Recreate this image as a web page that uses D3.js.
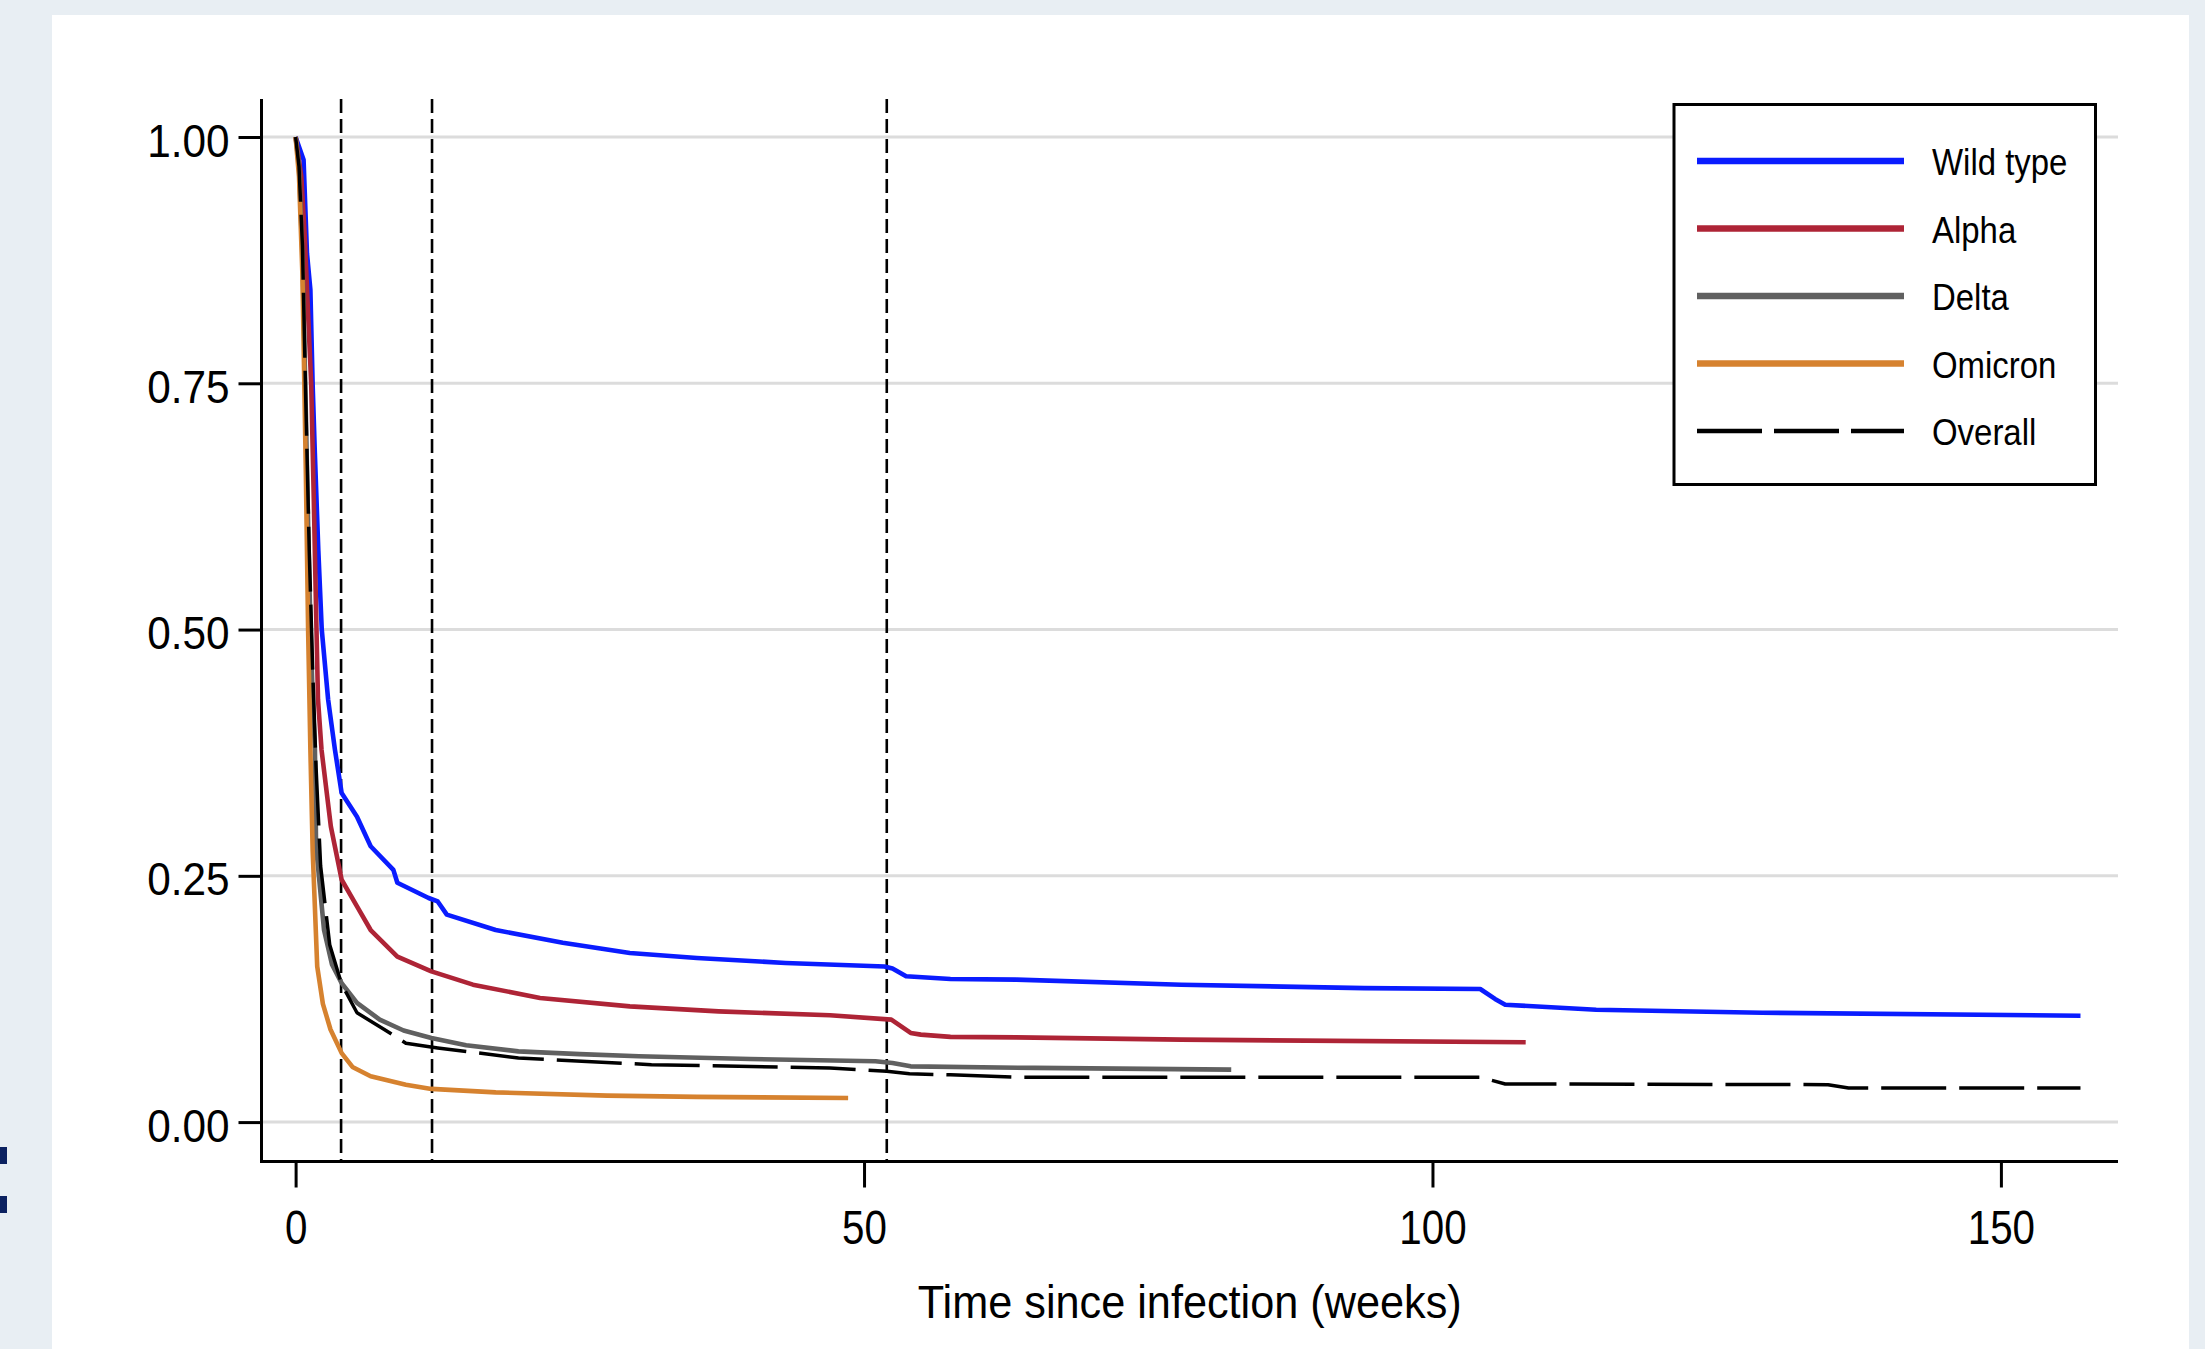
<!DOCTYPE html>
<html>
<head>
<meta charset="utf-8">
<script src="https://cdn.jsdelivr.net/npm/d3@7"></script>
<style>
  html, body { margin: 0; padding: 0; background: #e8eef3; }
  svg { display: block; }
  text { font-family: "Liberation Sans", Arial, sans-serif; fill: #000; }
</style>
</head>
<body>
<script>
// ---------- data ----------
const seriesNames = ["Wild type", "Alpha", "Delta", "Omicron", "Overall"];
const seriesColors = ["#0a1cff", "#ae2436", "#606060", "#d6822f", "#000000"];

// [weeks since infection, proportion still positive]
const wildType = [[0,1],[0.7,0.977],[1.0,0.882],[1.3,0.845],[1.5,0.748],[1.69,0.68],[2.0,0.58],[2.3,0.5],[2.86,0.429],[3.46,0.378],[4.05,0.334],[5.4,0.31],[6.6,0.28],[8.6,0.256],[8.95,0.243],[11.7,0.2275],[12.5,0.224],[13.3,0.2106],[17.6,0.195],[23.5,0.182],[29.4,0.1717],[35.3,0.1666],[43.1,0.1615],[51.8,0.158],[52.5,0.156],[53.7,0.148],[57.6,0.1453],[63.4,0.1446],[77.9,0.1395],[94,0.136],[104.2,0.1351],[105.5,0.125],[106.4,0.1192],[114.4,0.114],[129,0.111],[157,0.108]];
const alpha = [[0,1],[0.5,0.96],[0.8,0.9],[1.1,0.82],[1.37,0.75],[1.6,0.632],[1.8,0.52],[1.97,0.429],[2.28,0.378],[3.1,0.3],[4.05,0.246],[5.4,0.219],[6.6,0.195],[8.95,0.168],[11.94,0.153],[15.6,0.1395],[21.5,0.126],[29.4,0.1175],[37.2,0.1124],[47,0.1084],[52.4,0.104],[54.1,0.0905],[55,0.0888],[57.6,0.0865],[63.4,0.086],[77.9,0.0837],[108.2,0.081]];
const delta = [[0,1],[0.3,0.97],[0.6,0.88],[0.9,0.72],[1.2,0.55],[1.5,0.43],[1.7,0.378],[1.8,0.28],[2.5,0.195],[3.2,0.16],[4.05,0.141],[5.4,0.121],[7.4,0.104],[9.5,0.093],[11.94,0.0854],[15,0.078],[19.6,0.0718],[25,0.069],[30.2,0.0668],[40,0.064],[51,0.0617],[52.5,0.06],[54.1,0.0566],[65,0.055],[82.3,0.0533]];
const omicron = [[0,1],[0.3,0.96],[0.6,0.86],[0.9,0.66],[1.1,0.5],[1.3,0.378],[1.5,0.276],[1.9,0.158],[2.4,0.12],[3.07,0.094],[4.05,0.07],[5,0.056],[6.6,0.0465],[9.7,0.038],[11.94,0.0337],[17.6,0.0302],[27.4,0.0269],[35.3,0.0256],[48.6,0.0245]];
const overall = [[0,1],[0.3,0.97],[0.6,0.89],[0.9,0.73],[1.2,0.58],[1.5,0.46],[1.8,0.36],[2.2,0.26],[3,0.18],[4.05,0.14],[5.4,0.111],[7.8,0.094],[9.7,0.08],[12.5,0.0753],[19.6,0.0651],[31.3,0.0583],[47,0.055],[52,0.0516],[54,0.049],[57.6,0.048],[63.4,0.0455],[104.2,0.0455],[106.4,0.0387],[134.8,0.038],[136.6,0.0347],[157,0.0347]];

const xTicks = [0, 50, 100, 150];
const yTicks = [0, 0.25, 0.5, 0.75, 1];
const yTickLabels = ["0.00", "0.25", "0.50", "0.75", "1.00"];
const refWeeks = [4, 12, 52];
const xTitle = "Time since infection (weeks)";

// ---------- layout ----------
const W = 2205, H = 1349;
const svg = d3.select("body").append("svg").attr("width", W).attr("height", H);

svg.append("rect").attr("x", 0).attr("y", 0).attr("width", W).attr("height", H).attr("fill", "#e8eef3");
svg.append("rect").attr("x", 52).attr("y", 15).attr("width", 2189 - 52).attr("height", H - 15).attr("fill", "#ffffff");
// cut-off marks at left edge
svg.append("rect").attr("x", 0).attr("y", 1147).attr("width", 7).attr("height", 17).attr("fill", "#0b2160");
svg.append("rect").attr("x", 0).attr("y", 1196).attr("width", 7).attr("height", 17).attr("fill", "#0b2160");

const x = d3.scaleLinear().domain([-3, 160.3]).range([261.5, 2118]);
const y = d3.scaleLinear().domain([-0.04, 1.0386]).range([1161.5, 99]);

function squeeze(sel, ratio) {
  sel.each(function() {
    const w = this.getComputedTextLength();
    d3.select(this).attr("textLength", w * ratio).attr("lengthAdjust", "spacingAndGlyphs");
  });
}

// gridlines
svg.append("g").selectAll("line").data(yTicks).join("line")
  .attr("x1", x.range()[0]).attr("x2", x.range()[1])
  .attr("y1", d => y(d)).attr("y2", d => y(d))
  .attr("stroke", "#dcdcdc").attr("stroke-width", 3);

// reference vertical lines
svg.append("g").selectAll("line").data(refWeeks).join("line")
  .attr("x1", d => x(d)).attr("x2", d => x(d))
  .attr("y1", y.range()[1]).attr("y2", y.range()[0])
  .attr("stroke", "#000").attr("stroke-width", 2.6).attr("stroke-dasharray", "14,6");

// curves
const line = d3.line().x(d => x(d[0])).y(d => y(d[1]));
const allSeries = [wildType, alpha, delta, omicron, overall];
allSeries.forEach((s, i) => {
  const p = svg.append("path").datum(s).attr("d", line)
    .attr("fill", "none").attr("stroke", seriesColors[i])
    .attr("stroke-width", i === 4 ? 3.5 : 4.6)
    .attr("stroke-linejoin", "round");
  if (i === 4) p.attr("stroke-dasharray", "65,13");
});

// axes
const yAxis = svg.append("g").attr("transform", `translate(${x.range()[0]},0)`)
  .call(d3.axisLeft(y).tickValues(yTicks).tickSize(23).tickSizeOuter(0)
    .tickFormat((d, i) => yTickLabels[i]));
yAxis.select(".domain").attr("stroke", "#000").attr("stroke-width", 3)
  .attr("d", `M0,${y.range()[1]}V${y.range()[0] + 1.5}`);
yAxis.selectAll(".tick line").attr("stroke", "#000").attr("stroke-width", 3);
yAxis.selectAll(".tick text").attr("x", -32).attr("dy", null).attr("y", 19)
  .attr("text-anchor", "end").style("font-size", "47px").style("font-family", "Liberation Sans, Arial, sans-serif").attr("fill", "#000");
squeeze(yAxis.selectAll(".tick text"), 0.9);

const xAxis = svg.append("g").attr("transform", `translate(0,${y.range()[0]})`)
  .call(d3.axisBottom(x).tickValues(xTicks).tickSize(26).tickSizeOuter(0).tickFormat(d3.format("d")));
xAxis.select(".domain").attr("stroke", "#000").attr("stroke-width", 3)
  .attr("d", `M${x.range()[0] - 1.5},0H${x.range()[1]}`);
xAxis.selectAll(".tick line").attr("stroke", "#000").attr("stroke-width", 3);
xAxis.selectAll(".tick text").attr("y", 82).attr("dy", null)
  .attr("text-anchor", "middle").style("font-size", "48px").style("font-family", "Liberation Sans, Arial, sans-serif").attr("fill", "#000");
squeeze(xAxis.selectAll(".tick text"), 0.84);

// axis title
const xt = svg.append("text").attr("x", (x.range()[0] + x.range()[1]) / 2).attr("y", 1318)
  .attr("text-anchor", "middle").style("font-size", "46px").text(xTitle);
squeeze(xt, 0.94);

// legend
const lg = svg.append("g");
lg.append("rect").attr("x", 1674).attr("y", 104.5).attr("width", 2095.5 - 1674).attr("height", 484.5 - 104.5)
  .attr("fill", "#fff").attr("stroke", "#000").attr("stroke-width", 3);
seriesNames.forEach((n, i) => {
  const cy = 161 + i * 67.5;
  const l = lg.append("line").attr("x1", 1697).attr("x2", 1904).attr("y1", cy).attr("y2", cy)
    .attr("stroke", seriesColors[i]).attr("stroke-width", i === 4 ? 4.4 : 6.6);
  if (i === 4) l.attr("stroke-dasharray", "65,12");
  const t = lg.append("text").attr("x", 1932).attr("y", cy + 14).style("font-size", "37px").text(n);
  squeeze(t, 0.89);
});
</script>
</body>
</html>
